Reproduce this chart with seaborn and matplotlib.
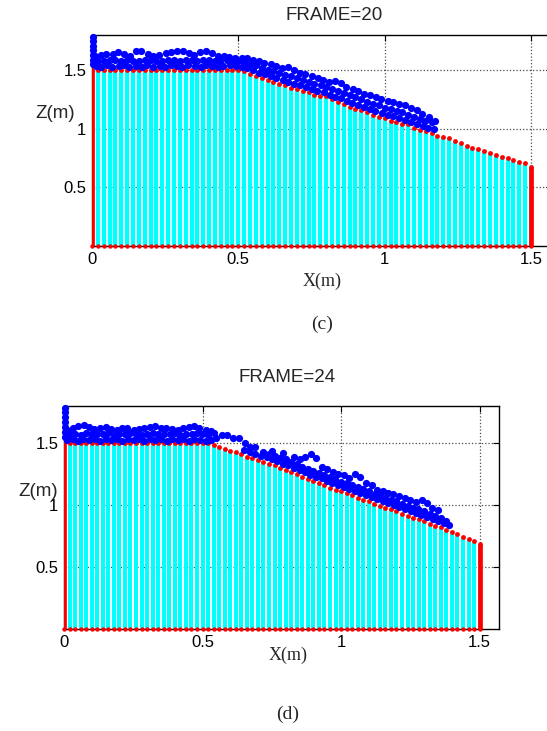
import numpy as np
import matplotlib
matplotlib.use("Agg")
import matplotlib.pyplot as plt
import seaborn as sns

sns.set_style("white")
plt.rcParams["font.family"] = ["Liberation Sans", "DejaVu Sans"]

CYAN = "#00ffff"
RED = "#ff0000"
BLUE = "#0000ff"
SERIF = ["Liberation Serif", "DejaVu Serif"]

# column positions (uniform grid 0..1.5 m)
col_x = np.linspace(0, 1.5, 76)

# free surface height of each column
surf20 = [1.50] * 26 + [
    1.49, 1.47, 1.45, 1.43, 1.42, 1.40, 1.38, 1.37, 1.35, 1.34,
    1.32, 1.31, 1.29, 1.28, 1.28, 1.25, 1.23, 1.21, 1.19, 1.17,
    1.16, 1.14, 1.12, 1.10, 1.09, 1.07, 1.06, 1.04, 1.04, 1.01,
    0.99, 0.98, 0.96, 0.94, 0.93, 0.92, 0.90, 0.88, 0.85, 0.84,
    0.83, 0.81, 0.79, 0.78, 0.76, 0.75, 0.73, 0.72, 0.71, 0.67,
]
surf24 = [1.50] * 27 + [
    1.485, 1.47, 1.45, 1.44, 1.43, 1.41, 1.39, 1.38, 1.365, 1.35,
    1.335, 1.32, 1.30, 1.285, 1.27, 1.25, 1.23, 1.21, 1.195, 1.18,
    1.16, 1.14, 1.125, 1.11, 1.095, 1.08, 1.06, 1.045, 1.03, 1.01,
    0.995, 0.98, 0.965, 0.95, 0.93, 0.915, 0.90, 0.885, 0.87, 0.85,
    0.835, 0.82, 0.80, 0.785, 0.765, 0.745, 0.73, 0.71, 0.69,
]

# blue particles, frame 20 (three loose layers)
lo20_x = [0.012, 0.030, 0.052, 0.068, 0.091, 0.110, 0.128, 0.151, 0.172, 0.189,
          0.208, 0.231, 0.249, 0.270, 0.291, 0.309, 0.328, 0.351, 0.372, 0.388,
          0.410, 0.432, 0.449, 0.470, 0.491, 0.512, 0.529, 0.551, 0.570, 0.592,
          0.610, 0.629, 0.652, 0.671, 0.690, 0.709, 0.731, 0.750, 0.769, 0.791,
          0.812, 0.829, 0.850, 0.871, 0.889, 0.910, 0.931, 0.949, 0.968, 0.991,
          1.010, 1.029, 1.050, 1.071, 1.089, 1.110, 1.131, 1.149, 1.168]
lo20_z = [1.535, 1.53, 1.54, 1.53, 1.535, 1.54, 1.53, 1.535, 1.525, 1.54,
          1.53, 1.535, 1.53, 1.54, 1.535, 1.53, 1.54, 1.535, 1.53, 1.54,
          1.535, 1.53, 1.535, 1.54, 1.535, 1.53, 1.515, 1.50, 1.48, 1.465,
          1.45, 1.43, 1.415, 1.40, 1.385, 1.37, 1.355, 1.34, 1.325, 1.31,
          1.29, 1.275, 1.26, 1.24, 1.22, 1.205, 1.19, 1.17, 1.15, 1.135,
          1.12, 1.105, 1.09, 1.075, 1.06, 1.04, 1.025, 1.01, 0.995]
mid20_x = [0.021, 0.041, 0.060, 0.080, 0.099, 0.121, 0.139, 0.160, 0.181, 0.200,
           0.219, 0.240, 0.261, 0.279, 0.300, 0.320, 0.341, 0.359, 0.380, 0.401,
           0.420, 0.439, 0.461, 0.480, 0.500, 0.520, 0.541, 0.560, 0.580, 0.601,
           0.620, 0.640, 0.661, 0.680, 0.700, 0.721, 0.740, 0.760, 0.781, 0.800,
           0.820, 0.840, 0.861, 0.880, 0.899, 0.920, 0.940, 0.960, 0.979, 1.000,
           1.020, 1.041, 1.060, 1.080, 1.101, 1.120, 1.139, 1.160]
mid20_z = [1.58, 1.575, 1.59, 1.585, 1.58, 1.59, 1.575, 1.58, 1.59, 1.585,
           1.575, 1.58, 1.59, 1.585, 1.58, 1.59, 1.585, 1.58, 1.59, 1.585,
           1.58, 1.575, 1.585, 1.58, 1.575, 1.565, 1.555, 1.54, 1.52, 1.505,
           1.49, 1.475, 1.46, 1.45, 1.43, 1.415, 1.40, 1.385, 1.37, 1.355,
           1.34, 1.32, 1.305, 1.285, 1.27, 1.25, 1.23, 1.215, 1.20, 1.18,
           1.165, 1.15, 1.14, 1.12, 1.10, 1.085, 1.07, 1.055]
hi20_x = [0.010, 0.032, 0.049, 0.071, 0.090, 0.109, 0.131, 0.150, 0.169, 0.191,
          0.210, 0.229, 0.252, 0.271, 0.289, 0.311, 0.330, 0.349, 0.369, 0.390,
          0.411, 0.430, 0.451, 0.469, 0.489, 0.511, 0.531, 0.549, 0.571, 0.589,
          0.611, 0.630, 0.649, 0.670, 0.691, 0.711, 0.729, 0.751, 0.771, 0.789,
          0.810, 0.831, 0.851, 0.869, 0.891, 0.909, 0.930, 0.951, 0.970, 0.989,
          1.011, 1.030, 1.049, 1.069, 1.091, 1.111, 1.129, 1.150, 1.171]
hi20_z = [1.62, 1.63, 1.64, 1.635, 1.655, 1.64, 1.625, 1.66, 1.665, 1.64,
          1.625, 1.63, 1.645, 1.655, 1.665, 1.66, 1.645, 1.63, 1.655, 1.665,
          1.65, 1.625, 1.62, 1.615, 1.605, 1.60, 1.60, 1.59, 1.575, 1.56,
          1.55, 1.535, 1.52, 1.53, 1.50, 1.48, 1.47, 1.45, 1.435, 1.42,
          1.40, 1.41, 1.39, 1.36, 1.34, 1.32, 1.30, 1.285, 1.27, 1.25,
          1.235, 1.225, 1.215, 1.20, 1.18, 1.16, 1.13, 1.10, 1.07]
wall20_z = [1.55, 1.59, 1.63, 1.67, 1.71, 1.75, 1.78]

# blue particles, frame 24
lo24_x = [0.011, 0.031, 0.050, 0.069, 0.090, 0.111, 0.129, 0.150, 0.171, 0.190,
          0.209, 0.230, 0.251, 0.269, 0.290, 0.310, 0.329, 0.350, 0.371, 0.389,
          0.410, 0.431, 0.450, 0.469, 0.490, 0.511, 0.530, 0.550, 0.571, 0.590,
          0.611, 0.631, 0.650, 0.671, 0.690, 0.710, 0.731, 0.749, 0.770, 0.791,
          0.810, 0.829, 0.851, 0.870, 0.889, 0.910, 0.931, 0.950, 0.969, 0.990,
          1.011, 1.030, 1.049, 1.070, 1.091, 1.110, 1.129, 1.150, 1.171, 1.190,
          1.209, 1.230, 1.251, 1.269, 1.290, 1.311, 1.330, 1.349, 1.370, 1.390]
lo24_z = [1.525, 1.53, 1.52, 1.53, 1.525, 1.53, 1.52, 1.53, 1.525, 1.53,
          1.52, 1.53, 1.525, 1.53, 1.52, 1.53, 1.525, 1.53, 1.52, 1.53,
          1.525, 1.53, 1.52, 1.53, 1.525, 1.52, 1.525, 1.545, 1.565, 1.565,
          1.545, 1.54, 1.445, 1.43, 1.415, 1.40, 1.385, 1.37, 1.355, 1.335,
          1.32, 1.30, 1.285, 1.265, 1.245, 1.23, 1.215, 1.195, 1.18, 1.16,
          1.145, 1.13, 1.115, 1.10, 1.08, 1.065, 1.05, 1.03, 1.015, 1.00,
          0.985, 0.965, 0.95, 0.935, 0.92, 0.905, 0.885, 0.87, 0.855, 0.84]
mid24_x = [0.021, 0.040, 0.061, 0.080, 0.099, 0.120, 0.141, 0.160, 0.179, 0.200,
           0.221, 0.240, 0.259, 0.280, 0.301, 0.320, 0.339, 0.360, 0.381, 0.400,
           0.419, 0.440, 0.461, 0.480, 0.499, 0.520, 0.541, 0.670, 0.720, 0.740,
           0.760, 0.781, 0.800, 0.820, 0.841, 0.860, 0.879, 0.900, 0.921, 0.940,
           0.960, 0.979, 1.000, 1.021, 1.040, 1.060, 1.079, 1.100, 1.121, 1.140,
           1.160, 1.179, 1.200, 1.221, 1.240, 1.260, 1.279, 1.300, 1.321, 1.340,
           1.360, 1.380]
mid24_z = [1.57, 1.575, 1.565, 1.58, 1.57, 1.575, 1.57, 1.58, 1.565, 1.575,
           1.57, 1.58, 1.57, 1.565, 1.575, 1.58, 1.57, 1.575, 1.57, 1.58,
           1.565, 1.575, 1.57, 1.58, 1.575, 1.565, 1.585, 1.47, 1.43, 1.415,
           1.40, 1.38, 1.37, 1.345, 1.33, 1.31, 1.29, 1.275, 1.26, 1.24,
           1.225, 1.21, 1.19, 1.175, 1.16, 1.145, 1.13, 1.11, 1.09, 1.075,
           1.06, 1.045, 1.03, 1.01, 0.995, 0.98, 0.965, 0.95, 0.93, 0.915,
           0.90, 0.87]
hi24_x = [0.010, 0.032, 0.049, 0.071, 0.090, 0.109, 0.131, 0.150, 0.169, 0.191,
          0.210, 0.229, 0.252, 0.271, 0.289, 0.311, 0.330, 0.349, 0.369, 0.390,
          0.411, 0.430, 0.451, 0.469, 0.489, 0.511, 0.531, 0.652, 0.690, 0.751,
          0.789, 0.830, 0.851, 0.869, 0.891, 0.909, 0.930, 0.951, 0.970, 0.989,
          1.011, 1.030, 1.049, 1.069, 1.091, 1.111, 1.129, 1.150, 1.171, 1.189,
          1.210, 1.231, 1.250, 1.270, 1.291, 1.310, 1.329, 1.351]
hi24_z = [1.61, 1.625, 1.635, 1.645, 1.63, 1.615, 1.62, 1.63, 1.615, 1.61,
          1.625, 1.62, 1.61, 1.615, 1.625, 1.63, 1.635, 1.625, 1.62, 1.615,
          1.61, 1.62, 1.63, 1.635, 1.62, 1.605, 1.60, 1.50, 1.47, 1.44,
          1.42, 1.385, 1.37, 1.39, 1.41, 1.38, 1.31, 1.29, 1.27, 1.255,
          1.24, 1.22, 1.25, 1.23, 1.175, 1.16, 1.12, 1.11, 1.10, 1.09,
          1.07, 1.055, 1.04, 1.025, 1.04, 1.02, 0.98, 0.96]
wall24_z = [1.55, 1.59, 1.63, 1.67, 1.71, 1.75, 1.78]

x_ticks = [0, 0.5, 1, 1.5]
x_tick_labels = ["0", "0.5", "1", "1.5"]
y_ticks = [0.5, 1, 1.5]
y_tick_labels = ["0.5", "1", "1.5"]


def draw_frame(ax, surf, layers, wall_z, col_lw):
    """Dibuja un frame: columnas cian, superficie roja y particulas azules"""
    surf = np.asarray(surf)
    ax.vlines(col_x, 0, surf, color=CYAN, linewidth=col_lw, zorder=2)
    # paredes laterales
    ax.vlines([col_x[0], col_x[-1]], 0, [surf[0], surf[-1]],
              color=RED, linewidth=3.4, zorder=3)
    sns.scatterplot(x=col_x, y=surf, ax=ax, color=RED, s=12,
                    linewidth=0, zorder=4)
    sns.scatterplot(x=col_x, y=np.zeros_like(col_x), ax=ax, color=RED, s=10,
                    linewidth=0, zorder=4, clip_on=False)
    for bx, bz in layers:
        sns.scatterplot(x=bx, y=bz, ax=ax, color=BLUE, s=27,
                        linewidth=0, zorder=5, clip_on=False)
    sns.scatterplot(x=[0.002] * len(wall_z), y=wall_z, ax=ax, color=BLUE,
                    s=27, linewidth=0, zorder=5, clip_on=False)

    ax.set_xlim(0, 1.57)
    ax.set_ylim(0, 1.8)
    ax.set_xticks(x_ticks)
    ax.set_xticklabels(x_tick_labels)
    ax.set_yticks(y_ticks)
    ax.set_yticklabels(y_tick_labels)
    ax.tick_params(direction="in", length=4, width=0.8, top=True, right=True,
                   labelsize=12, pad=4, colors="black")
    ax.grid(True, linestyle=":", color="0.3", linewidth=0.9)
    ax.set_axisbelow(True)
    for sp in ax.spines.values():
        sp.set_visible(True)
        sp.set_color("black")
        sp.set_linewidth(1.0)
    ax.set_xlabel("")
    ax.set_ylabel("")


W, H = 547, 731
fig = plt.figure(figsize=(W / 100, H / 100), dpi=100)

ax1 = fig.add_axes([92 / W, 485 / H, 459.5 / W, 211 / H])
draw_frame(ax1, surf20,
           [(lo20_x, lo20_z), (mid20_x, mid20_z), (hi20_x, hi20_z)],
           wall20_z, 3.1)

ax2 = fig.add_axes([64 / W, 102 / H, 435 / W, 223 / H])
draw_frame(ax2, surf24,
           [(lo24_x, lo24_z), (mid24_x, mid24_z), (hi24_x, hi24_z)],
           wall24_z, 2.9)

# textos
fig.text(334 / W, 1 - 16 / H, "FRAME=20", ha="center", va="center", fontsize=13.5)
fig.text(55 / W, 1 - 113 / H, "Z(m)", ha="center", va="center", fontsize=13.5)
fig.text(322 / W, 1 - 281 / H, "X(m)", ha="center", va="center",
         fontsize=13, family=SERIF)
fig.text(322 / W, 1 - 324 / H, "(c)", ha="center", va="center",
         fontsize=14, family=SERIF)

fig.text(287 / W, 1 - 377 / H, "FRAME=24", ha="center", va="center", fontsize=13.5)
fig.text(38 / W, 1 - 492 / H, "Z(m)", ha="center", va="center", fontsize=13.5)
fig.text(288 / W, 1 - 655 / H, "X(m)", ha="center", va="center",
         fontsize=13, family=SERIF)
fig.text(288 / W, 1 - 714 / H, "(d)", ha="center", va="center",
         fontsize=14, family=SERIF)

fig.savefig("out.png", dpi=100)
